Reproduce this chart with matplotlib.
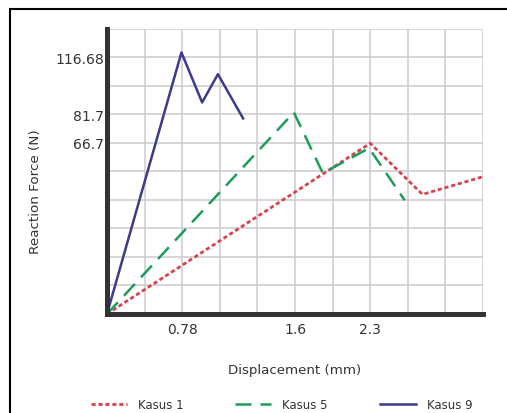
import matplotlib
matplotlib.use("Agg")
import matplotlib.pyplot as plt
from matplotlib.patches import Rectangle

# positions are in grid cells of the original chart (10 x 10 grid)
x_ticks = [2, 5, 7]
x_labels = ["0.78", "1.6", "2.3"]
y_ticks = [6, 7, 9]
y_labels = ["66.7", "81.7", "116.68"]

kasus1_x = [0, 7.0, 8.39, 10.0]
kasus1_y = [0, 5.98, 4.19, 4.81]

kasus5_x = [0, 4.97, 5.74, 6.97, 7.92]
kasus5_y = [0, 7.06, 4.93, 5.81, 3.98]

kasus9_x = [0, 1.98, 2.53, 2.95, 3.62]
kasus9_y = [0, 9.16, 7.41, 8.40, 6.85]

fig = plt.figure(figsize=(5.07, 4.14), dpi=100)
ax = fig.add_axes([107 / 507, 1 - 315 / 414, 376 / 507, 285.5 / 414])

ax.plot(kasus1_x, kasus1_y, color="#d8434f", lw=2.0,
        linestyle=(0, (1.5, 1.0)), label="Kasus 1")
ax.plot(kasus5_x, kasus5_y, color="#1d9c5c", lw=1.8,
        linestyle=(0, (6.4, 3.6)), label="Kasus 5")
ax.plot(kasus9_x, kasus9_y, color="#3c3b8e", lw=1.8, label="Kasus 9")

ax.set_xlim(0, 10)
ax.set_ylim(0, 10)
ax.set_xticks(range(11), minor=True)
ax.set_yticks(range(11), minor=True)
ax.set_xticks(x_ticks, x_labels)
ax.set_yticks(y_ticks, y_labels)
ax.grid(True, which="both", color="#cccccc", lw=1.1)
ax.set_axisbelow(True)
ax.tick_params(which="both", length=0, labelsize=10, colors="#333333")
ax.tick_params(axis="x", pad=6)
ax.tick_params(axis="y", pad=2)

for s in ["top", "right"]:
    ax.spines[s].set_visible(False)
for s in ["left", "bottom"]:
    ax.spines[s].set_linewidth(3.6)
    ax.spines[s].set_color("#333333")

ax.set_xlabel("Displacement (mm)", fontsize=9.6, color="#333333")
ax.xaxis.set_label_coords(0.5, -0.193)
ax.xaxis.label.set_verticalalignment("center")
ax.set_ylabel("Reaction Force (N)", fontsize=9.7, color="#333333")
ax.yaxis.set_label_coords(-0.191, 0.432)
ax.yaxis.label.set_verticalalignment("center")

fig.legend(loc="center", bbox_to_anchor=(0.555, 1 - 406 / 414), ncol=3,
           frameon=False, fontsize=8.5, handlelength=3.05, handletextpad=0.93,
           columnspacing=4.4, borderpad=0, labelcolor="#333333")

fig.add_artist(Rectangle((10 / 507, -0.2), 1.5, 1.2 - 10 / 414,
                         transform=fig.transFigure, fill=False,
                         edgecolor="black", lw=1.5, clip_on=False))

fig.savefig("out.png", dpi=100)
